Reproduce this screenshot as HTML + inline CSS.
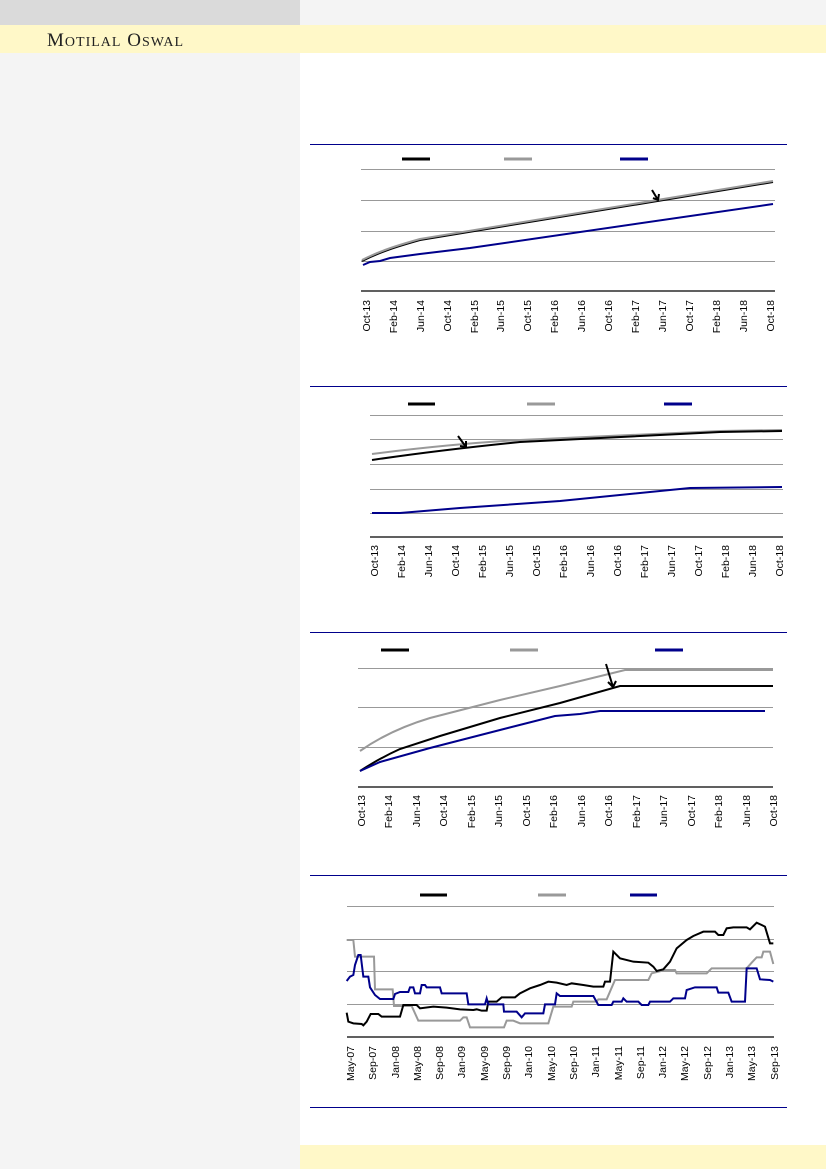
<!DOCTYPE html>
<html><head><meta charset="utf-8"><style>
html,body{margin:0;padding:0;}
body{width:826px;height:1169px;position:relative;background:#fff;overflow:hidden;font-family:"Liberation Sans",sans-serif;}
.a{position:absolute;}
</style></head><body>
<div class="a" style="left:0;top:0;width:300px;height:1169px;background:#f4f4f4"></div>
<div class="a" style="left:0;top:0;width:300px;height:25px;background:#dadada"></div>
<div class="a" style="left:300px;top:0;width:526px;height:25px;background:#f4f4f4"></div>
<div class="a" style="left:0;top:25px;width:826px;height:28px;background:#fff8c8"></div>
<div class="a" style="left:47px;top:30px;font-family:'Liberation Serif',serif;font-size:19px;color:#222;letter-spacing:1px">M<span style="font-size:14px">OTILAL</span> O<span style="font-size:14px">SWAL</span></div>
<div class="a" style="left:300px;top:1145px;width:526px;height:24px;background:#fff8c8"></div>
<svg class="a" style="left:0;top:0" width="826" height="1169" xmlns="http://www.w3.org/2000/svg" font-family="Liberation Sans, sans-serif" font-size="10.5" fill="none">
<!-- chart 1 -->
<line x1="310" y1="144.5" x2="787" y2="144.5" stroke="#00008b" stroke-width="1"/>
<g stroke-width="3"><line x1="402" y1="159" x2="430" y2="159" stroke="#000"/><line x1="504" y1="159" x2="532" y2="159" stroke="#999"/><line x1="620" y1="159" x2="648" y2="159" stroke="#00008b"/></g>
<g stroke="#999" stroke-width="1"><line x1="361" y1="169.5" x2="775" y2="169.5"/><line x1="361" y1="200.5" x2="775" y2="200.5"/><line x1="361" y1="231.5" x2="775" y2="231.5"/><line x1="361" y1="261.5" x2="775" y2="261.5"/></g>
<line x1="361" y1="291" x2="775" y2="291" stroke="#000" stroke-width="1.2"/>
<path d="M362,261 C380,252 395,247 420,240 L773,182" stroke="#000" stroke-width="2"/>
<path d="M362,260 C380,251 395,246 420,239 L773,181" stroke="#999" stroke-width="2"/>
<path d="M363,265 L370,262 L380,261 L390,258 L420,254 L470,248 L773,204" stroke="#00008b" stroke-width="2"/>
<path d="M652,190 L658,200 M653,198 L658,200 L659,194" stroke="#000" stroke-width="2"/>
<g fill="#000" text-anchor="end">
<text transform="translate(370,300) rotate(-90)">Oct-13</text><text transform="translate(397,300) rotate(-90)">Feb-14</text><text transform="translate(424,300) rotate(-90)">Jun-14</text><text transform="translate(451,300) rotate(-90)">Oct-14</text><text transform="translate(478,300) rotate(-90)">Feb-15</text><text transform="translate(504,300) rotate(-90)">Jun-15</text><text transform="translate(531,300) rotate(-90)">Oct-15</text><text transform="translate(558,300) rotate(-90)">Feb-16</text><text transform="translate(585,300) rotate(-90)">Jun-16</text><text transform="translate(612,300) rotate(-90)">Oct-16</text><text transform="translate(639,300) rotate(-90)">Feb-17</text><text transform="translate(666,300) rotate(-90)">Jun-17</text><text transform="translate(693,300) rotate(-90)">Oct-17</text><text transform="translate(720,300) rotate(-90)">Feb-18</text><text transform="translate(747,300) rotate(-90)">Jun-18</text><text transform="translate(774,300) rotate(-90)">Oct-18</text>
</g>
<!-- chart 2 -->
<line x1="310" y1="386.5" x2="787" y2="386.5" stroke="#00008b" stroke-width="1"/>
<g stroke-width="3"><line x1="408" y1="404" x2="435" y2="404" stroke="#000"/><line x1="527" y1="404" x2="555" y2="404" stroke="#999"/><line x1="664" y1="404" x2="692" y2="404" stroke="#00008b"/></g>
<g stroke="#999" stroke-width="1"><line x1="370" y1="415.5" x2="783" y2="415.5"/><line x1="370" y1="439.5" x2="783" y2="439.5"/><line x1="370" y1="464.5" x2="783" y2="464.5"/><line x1="370" y1="489.5" x2="783" y2="489.5"/><line x1="370" y1="513.5" x2="783" y2="513.5"/></g>
<line x1="370" y1="537" x2="783" y2="537" stroke="#000" stroke-width="1.2"/>
<path d="M372,454 Q450,444 520,440 L720,431 L782,430" stroke="#999" stroke-width="2"/>
<path d="M372,460 Q440,450 520,442 L720,432 L782,431" stroke="#000" stroke-width="2"/>
<path d="M372,513 L400,513 L460,508 L560,501 L690,488 L782,487" stroke="#00008b" stroke-width="2"/>
<path d="M458,436 L466,447 M460,446 L466,447 L466,441" stroke="#000" stroke-width="2"/>
<g fill="#000" text-anchor="end">
<text transform="translate(378,545) rotate(-90)">Oct-13</text><text transform="translate(405,545) rotate(-90)">Feb-14</text><text transform="translate(432,545) rotate(-90)">Jun-14</text><text transform="translate(459,545) rotate(-90)">Oct-14</text><text transform="translate(486,545) rotate(-90)">Feb-15</text><text transform="translate(513,545) rotate(-90)">Jun-15</text><text transform="translate(540,545) rotate(-90)">Oct-15</text><text transform="translate(567,545) rotate(-90)">Feb-16</text><text transform="translate(594,545) rotate(-90)">Jun-16</text><text transform="translate(621,545) rotate(-90)">Oct-16</text><text transform="translate(648,545) rotate(-90)">Feb-17</text><text transform="translate(675,545) rotate(-90)">Jun-17</text><text transform="translate(702,545) rotate(-90)">Oct-17</text><text transform="translate(729,545) rotate(-90)">Feb-18</text><text transform="translate(756,545) rotate(-90)">Jun-18</text><text transform="translate(783,545) rotate(-90)">Oct-18</text>
</g>
<!-- chart 3 -->
<line x1="310" y1="632.5" x2="787" y2="632.5" stroke="#00008b" stroke-width="1"/>
<g stroke-width="3"><line x1="381" y1="650" x2="409" y2="650" stroke="#000"/><line x1="510" y1="650" x2="538" y2="650" stroke="#999"/><line x1="655" y1="650" x2="683" y2="650" stroke="#00008b"/></g>
<g stroke="#999" stroke-width="1"><line x1="358" y1="668.5" x2="773" y2="668.5"/><line x1="358" y1="707.5" x2="773" y2="707.5"/><line x1="358" y1="747.5" x2="773" y2="747.5"/></g>
<line x1="358" y1="787" x2="773" y2="787" stroke="#000" stroke-width="1.2"/>
<path d="M360,751 Q390,730 430,718 L500,700 L560,686 L625,670 L773,670" stroke="#999" stroke-width="2"/>
<path d="M360,771 Q380,758 400,749 L440,736 L500,718 L560,703 L620,686 L773,686" stroke="#000" stroke-width="2"/>
<path d="M360,771 L380,762 L430,748 L500,730 L555,716 L580,714 L600,711 L765,711" stroke="#00008b" stroke-width="2"/>
<path d="M606,664 L613,687 M608,682 L613,687 L616,681" stroke="#000" stroke-width="2"/>
<g fill="#000" text-anchor="end">
<text transform="translate(365,795) rotate(-90)">Oct-13</text><text transform="translate(392,795) rotate(-90)">Feb-14</text><text transform="translate(420,795) rotate(-90)">Jun-14</text><text transform="translate(447,795) rotate(-90)">Oct-14</text><text transform="translate(475,795) rotate(-90)">Feb-15</text><text transform="translate(502,795) rotate(-90)">Jun-15</text><text transform="translate(530,795) rotate(-90)">Oct-15</text><text transform="translate(557,795) rotate(-90)">Feb-16</text><text transform="translate(585,795) rotate(-90)">Jun-16</text><text transform="translate(612,795) rotate(-90)">Oct-16</text><text transform="translate(640,795) rotate(-90)">Feb-17</text><text transform="translate(667,795) rotate(-90)">Jun-17</text><text transform="translate(695,795) rotate(-90)">Oct-17</text><text transform="translate(722,795) rotate(-90)">Feb-18</text><text transform="translate(750,795) rotate(-90)">Jun-18</text><text transform="translate(777,795) rotate(-90)">Oct-18</text>
</g>
<!-- chart 4 -->
<line x1="310" y1="875.5" x2="787" y2="875.5" stroke="#00008b" stroke-width="1"/>
<g stroke-width="3"><line x1="420" y1="895" x2="447" y2="895" stroke="#000"/><line x1="538" y1="895" x2="566" y2="895" stroke="#999"/><line x1="630" y1="895" x2="657" y2="895" stroke="#00008b"/></g>
<g stroke="#999" stroke-width="1"><line x1="347" y1="906.5" x2="774" y2="906.5"/><line x1="347" y1="939.5" x2="774" y2="939.5"/><line x1="347" y1="971.5" x2="774" y2="971.5"/><line x1="347" y1="1004.5" x2="774" y2="1004.5"/></g>
<line x1="347" y1="1037" x2="774" y2="1037" stroke="#000" stroke-width="1.2"/>
<g transform="translate(300,870) scale(0.33333)">
<path vector-effect="non-scaling-stroke" stroke="#999" stroke-width="2" d="M140,210 L160,210 L165,260 L222,260 L225,358 L278,358 L282,408 L335,408 L355,452 L480,452 L490,442 L500,442 L510,472 L612,472 L620,452 L640,452 L660,460 L745,460 L760,410 L815,410 L820,395 L890,395 L895,388 L920,388 L945,330 L1045,330 L1055,310 L1095,300 L1125,300 L1130,310 L1220,310 L1235,295 L1340,295 L1355,278 L1370,262 L1385,262 L1390,245 L1410,245 L1420,282"/>
<path vector-effect="non-scaling-stroke" stroke="#000" stroke-width="2" d="M140,428 L145,455 L160,460 L185,462 L190,466 L200,455 L212,432 L235,432 L245,440 L300,440 L310,405 L350,405 L360,415 L400,410 L440,413 L480,418 L520,420 L530,418 L545,422 L560,422 L565,395 L590,395 L605,382 L645,382 L660,370 L690,355 L720,345 L745,335 L770,338 L800,345 L815,340 L850,345 L880,350 L910,350 L915,335 L930,335 L940,245 L960,265 L1000,275 L1045,278 L1060,290 L1070,303 L1090,298 L1110,275 L1130,235 L1160,210 L1180,198 L1210,185 L1245,185 L1255,195 L1270,195 L1280,175 L1300,172 L1340,172 L1350,178 L1370,158 L1385,165 L1395,170 L1410,220 L1420,220"/>
<path vector-effect="non-scaling-stroke" stroke="#00008b" stroke-width="2" d="M140,333 L150,320 L160,315 L165,285 L175,255 L182,255 L190,320 L205,320 L210,352 L225,375 L240,387 L280,387 L285,372 L300,366 L325,366 L330,352 L340,352 L345,370 L360,370 L365,345 L375,345 L380,352 L420,352 L425,370 L500,370 L505,403 L555,403 L560,385 L565,403 L610,403 L612,425 L650,425 L665,442 L675,430 L730,430 L735,403 L765,403 L770,370 L780,378 L880,378 L895,405 L935,405 L940,395 L965,395 L970,385 L980,395 L1015,395 L1025,405 L1045,405 L1050,395 L1110,395 L1120,385 L1155,385 L1160,360 L1185,352 L1250,352 L1255,368 L1285,368 L1295,395 L1335,395 L1340,295 L1370,295 L1380,328 L1410,330 L1420,335"/>
</g>
<g fill="#000" text-anchor="end">
<text transform="translate(354,1046) rotate(-90)">May-07</text><text transform="translate(376,1046) rotate(-90)">Sep-07</text><text transform="translate(399,1046) rotate(-90)">Jan-08</text><text transform="translate(421,1046) rotate(-90)">May-08</text><text transform="translate(443,1046) rotate(-90)">Sep-08</text><text transform="translate(465,1046) rotate(-90)">Jan-09</text><text transform="translate(488,1046) rotate(-90)">May-09</text><text transform="translate(510,1046) rotate(-90)">Sep-09</text><text transform="translate(532,1046) rotate(-90)">Jan-10</text><text transform="translate(555,1046) rotate(-90)">May-10</text><text transform="translate(577,1046) rotate(-90)">Sep-10</text><text transform="translate(599,1046) rotate(-90)">Jan-11</text><text transform="translate(622,1046) rotate(-90)">May-11</text><text transform="translate(644,1046) rotate(-90)">Sep-11</text><text transform="translate(666,1046) rotate(-90)">Jan-12</text><text transform="translate(688,1046) rotate(-90)">May-12</text><text transform="translate(711,1046) rotate(-90)">Sep-12</text><text transform="translate(733,1046) rotate(-90)">Jan-13</text><text transform="translate(755,1046) rotate(-90)">May-13</text><text transform="translate(778,1046) rotate(-90)">Sep-13</text>
</g>
<line x1="310" y1="1107.5" x2="787" y2="1107.5" stroke="#00008b" stroke-width="1"/>
</svg>
</body></html>
